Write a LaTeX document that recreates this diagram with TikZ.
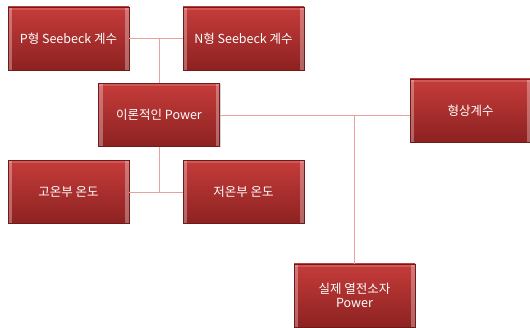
\documentclass[tikz,border=0pt]{standalone}
\usepackage{fontspec}
\newfontfamily\krfont{Noto Sans CJK KR}
\usetikzlibrary{shadows}
\definecolor{boxtop}{RGB}{197,60,58}
\definecolor{boxbottom}{RGB}{140,34,33}
\definecolor{linkpink}{RGB}{234,160,160}
\tikzset{
        block/.style={rectangle, minimum width=121pt, minimum height=63pt, inner sep=2pt,
          top color=boxtop, bottom color=boxbottom, draw=boxbottom!80!black, line width=0.3pt,
          text=white, align=center, font=\krfont\fontsize{12.5}{13.5}\selectfont,
          drop shadow={shadow xshift=1pt, shadow yshift=-1pt, opacity=0.35},
          path picture={
            \fill[white, opacity=0.3] (path picture bounding box.north west) rectangle ([xshift=4pt]path picture bounding box.south west);
            \fill[white, opacity=0.3] (path picture bounding box.north east) rectangle ([xshift=-4pt]path picture bounding box.south east);
            \fill[white, opacity=0.15] (path picture bounding box.north west) rectangle ([yshift=-3pt]path picture bounding box.north east);
          }},
        link/.style={draw=linkpink, line width=0.8pt}
          }
\begin{document}
\begin{tikzpicture}[x=1pt, y=-1pt]
        \useasboundingbox (0,0) rectangle (530,328);
        \node[block] (pseebeck) at (68.5,38.5) {P형 Seebeck 계수};
        \node[block] (nseebeck) at (243.5,38.5) {N형 Seebeck 계수};
        \node[block] (power) at (159,115) {이론적인 Power};
        \node[block] (hot) at (68.5,192) {고온부 온도};
        \node[block] (cold) at (243.5,192) {저온부 온도};
        \node[block] (shape) at (470.5,110.5) {형상계수};
        \node[block] (real) at (354.5,295.5) {실제 열전소자\\Power};

        \draw[link] (pseebeck.east) -- (nseebeck.west);
        \draw[link] (power.north) -- (power.north |- pseebeck.east);
        \draw[link] (hot.east) -- (cold.west);
        \draw[link] (power.south) -- (power.south |- hot.east);
        \draw[link] (power.east) -- (power.east -| shape.west);
        \draw[link] (real.north |- power.east) -- (real.north);
\end{tikzpicture}
\end{document}
